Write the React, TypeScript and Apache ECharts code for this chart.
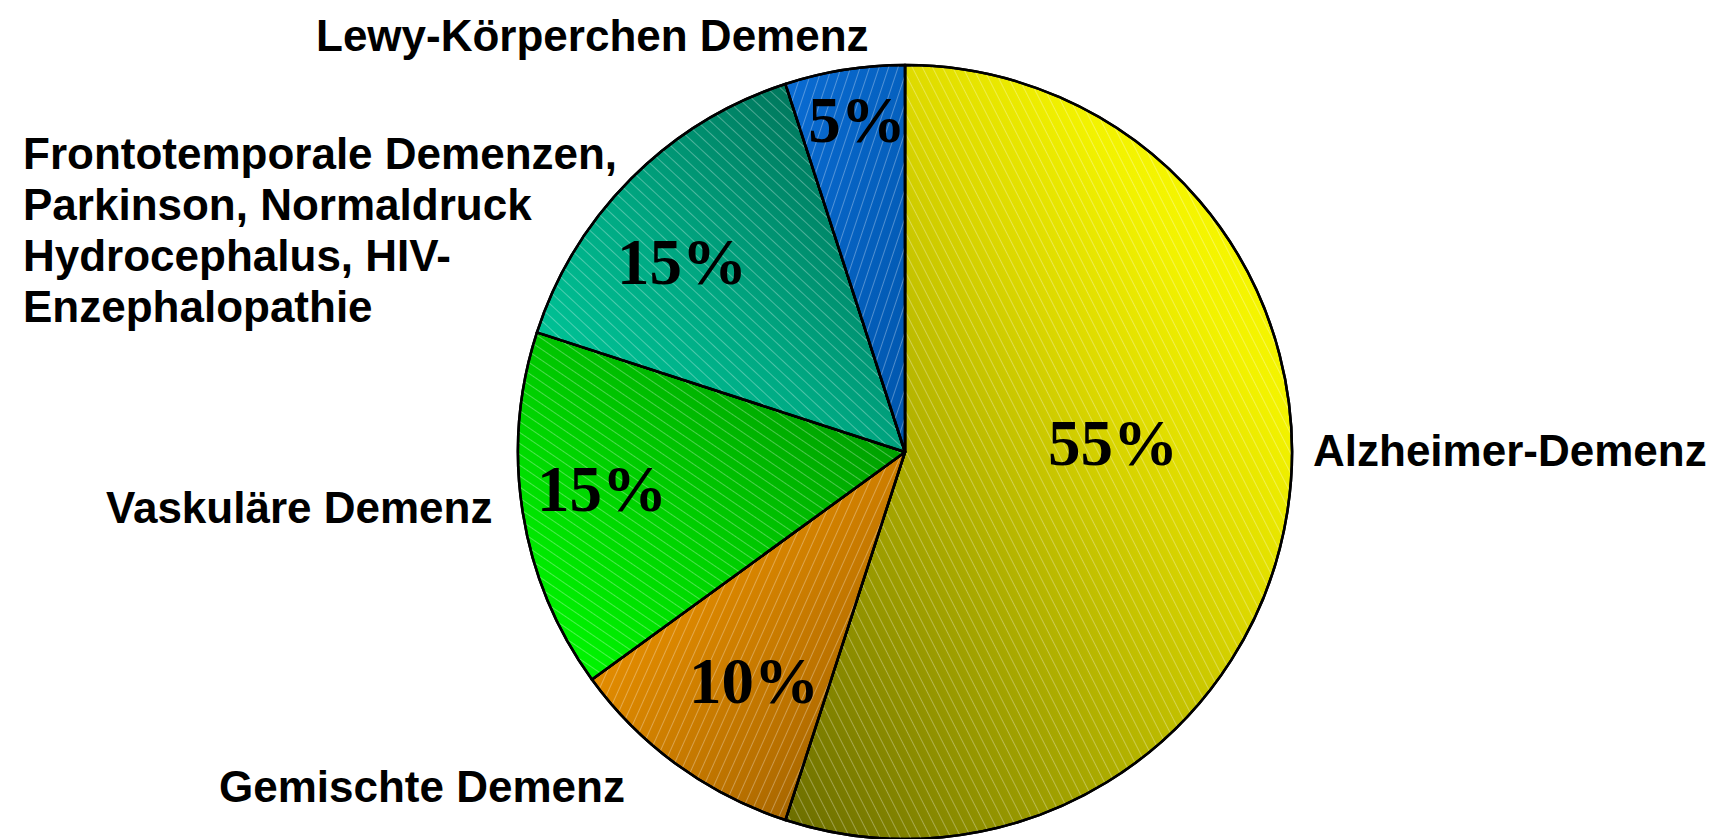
import React, { useEffect, useRef } from "react";
import * as echarts from "echarts";

// ---- data ----
const categories = [
  "Alzheimer-Demenz",
  "Gemischte Demenz",
  "Vaskuläre Demenz",
  "Frontotemporale Demenzen,\nParkinson, Normaldruck\nHydrocephalus, HIV-\nEnzephalopathie",
  "Lewy-Körperchen Demenz",
];
const shares = [55, 10, 15, 15, 5];

// ---- styles (not data) ----
const sliceGradients = [
  { x: 0, y: 1, x2: 1, y2: 0, stops: [[0, "#6a6c00"], [0.34, "#a8a800"], [0.6, "#dcd800"], [0.76, "#f2f200"], [1, "#ffff00"]] },
  { x: 0, y: 0, x2: 1, y2: 1, stops: [[0, "#f29600"], [0.33, "#e08a00"], [0.7, "#b87000"], [1, "#8a5600"]] },
  { x: 0, y: 1, x2: 1, y2: 0, stops: [[0, "#00ff00"], [0.4, "#00d400"], [0.85, "#009c00"], [1, "#009000"]] },
  { x: 0, y: 1, x2: 1, y2: 0, stops: [[0, "#00d0a0"], [0.45, "#00a882"], [0.8, "#007c60"], [1, "#006a50"]] },
  { x: 0, y: 0, x2: 1, y2: 1, stops: [[0, "#0a6cd4"], [1, "#0056ac"]] },
];
const hatchRotation = [1.1, -1.15, 0.6, 0.75, -1.25];

// label anchor positions (pixels in the 1716x839 canvas)
const percentLabelPos = [[1113, 443], [754, 681], [602, 489], [682, 262], [857, 120]];
const nameLabelPos = [[1313, 450], [219, 786], [106, 507], [23, 230], [316, 35]];

function grad(g: any) {
  return new echarts.graphic.LinearGradient(
    g.x, g.y, g.x2, g.y2,
    g.stops.map((s: any) => ({ offset: s[0], color: s[1] }))
  );
}

export default function App() {
  const ref = useRef<HTMLDivElement>(null);
  useEffect(() => {
    if (!ref.current) return;
    const chart = echarts.init(ref.current, undefined, { renderer: "svg" });
    const center = [905, 452];
    const radius = 387;
    const nameData = categories.map((c, i) => ({ name: c, value: shares[i] }));
    const mainData = categories.map((c, i) => ({
      name: c,
      value: shares[i],
      itemStyle: {
        color: grad(sliceGradients[i]),
        decal: {
          symbol: "rect",
          symbolSize: 1,
          dashArrayX: [1, 0],
          dashArrayY: [1, 8],
          rotation: hatchRotation[i],
          color: "rgba(255,255,255,0.3)",
        },
      },
    }));
    chart.setOption({
      animation: false,
      backgroundColor: "#ffffff",
      series: [
        {
          type: "pie",
          silent: true,
          center,
          radius,
          startAngle: 90,
          clockwise: true,
          avoidLabelOverlap: false,
          data: nameData,
          itemStyle: { color: "rgba(0,0,0,0)", borderWidth: 0 },
          label: {
            show: true,
            position: "outside",
            formatter: "{b}",
            fontFamily: "Liberation Sans, Arial, sans-serif",
            fontWeight: "bold",
            fontSize: 44,
            lineHeight: 51,
            color: "#000",
            align: "left",
          },
          labelLine: { show: false },
          labelLayout: (p: any) => ({
            x: nameLabelPos[p.dataIndex][0],
            y: nameLabelPos[p.dataIndex][1],
            align: "left",
            verticalAlign: "middle",
          }),
        },
        {
          type: "pie",
          silent: true,
          center,
          radius,
          startAngle: 90,
          clockwise: true,
          avoidLabelOverlap: false,
          data: mainData,
          itemStyle: { borderColor: "#000", borderWidth: 2.5 },
          label: {
            show: true,
            position: "inside",
            formatter: "{c}%",
            fontFamily: "Liberation Serif, Times New Roman, serif",
            fontWeight: "bold",
            fontSize: 65,
            color: "#000",
          },
          labelLine: { show: false },
          labelLayout: (p: any) => ({
            x: percentLabelPos[p.dataIndex][0],
            y: percentLabelPos[p.dataIndex][1],
            align: "center",
            verticalAlign: "middle",
          }),
        },
      ],
    });
    return () => chart.dispose();
  }, []);
  return (
    <div
      ref={ref}
      style={{ position: "absolute", left: 0, top: 0, width: 1716, height: 839 }}
    />
  );
}
